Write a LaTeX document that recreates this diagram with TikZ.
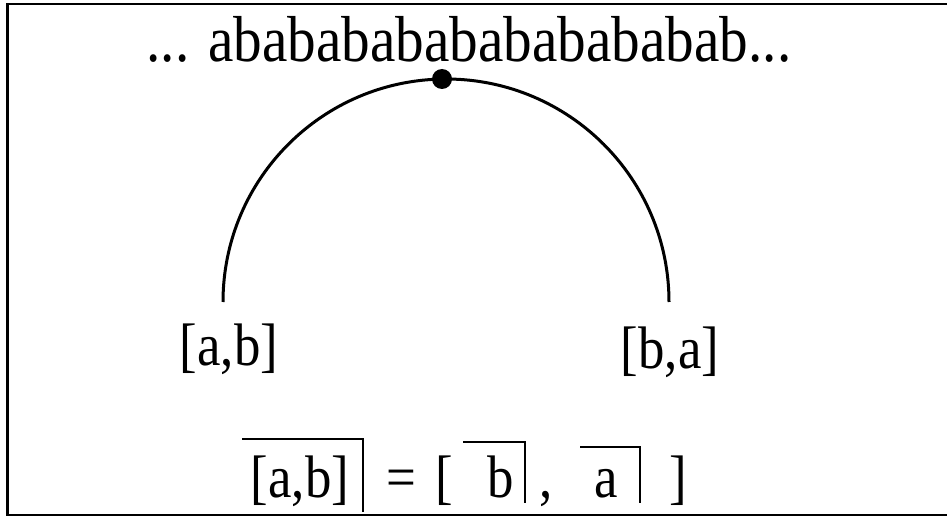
\documentclass[tikz,border=0pt]{standalone}
\usepackage{fontspec}
\setmainfont{Liberation Serif}[FakeStretch=0.88]
\usepackage{tikz}

\begin{document}
\begin{tikzpicture}[x=1pt,y=-1pt,
        word/.style={anchor=base,inner sep=0pt,font=\fontsize{65}{68}\selectfont},
        pair/.style={anchor=base,inner sep=0pt,font=\fontsize{60}{63}\selectfont},
        hook/.style={line width=2.5pt}]
        \useasboundingbox (0,0) rectangle (947,516);
        \draw[line width=2.5pt] (952,4) -- (7.5,4) -- (7.5,515) -- (952,515);
        \node[word] (seq) at (469,62) {... abababababababababab...};
        \draw[line width=3pt] (223,302) arc[start angle=180,end angle=360,radius=223];
        \node[circle,fill,inner sep=0pt,minimum size=20pt] (dot) at (442,79) {};
        \node[pair] (ab) at (229,365) {[a,b]};
        \node[pair] (ba) at (670,368) {[b,a]};
        % the bar formula
        \node[pair] (lhs) at (300,497) {[a,b]};
        \node[pair] (eq) at (401,497) {=};
        \node[pair] (lbr) at (444,497) {[};
        \node[pair] (bb) at (501,497) {b};
        \node[pair] (cm) at (546,497) {,};
        \node[pair] (aa) at (606,497) {a};
        \node[pair] (rbr) at (678,497) {]};
        \draw[hook] (242,439) -- (363,439) -- (363,512);
        \draw[hook] (463,442) -- (525,442) -- (525,503);
        \draw[hook] (580,447) -- (640,447) -- (640,503);
\end{tikzpicture}
\end{document}
